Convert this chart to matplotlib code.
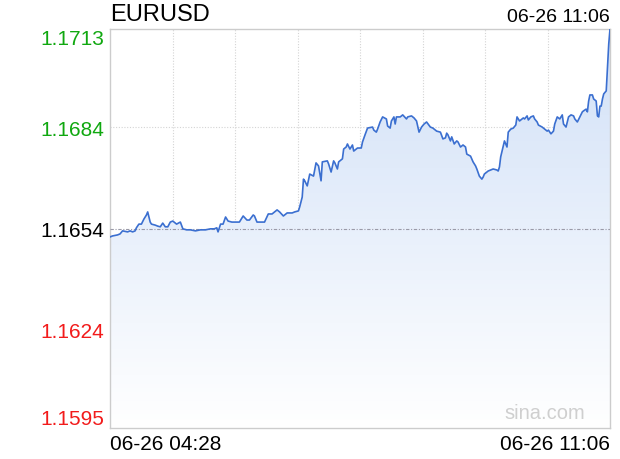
import numpy as np
import matplotlib
matplotlib.use("Agg")
import matplotlib.pyplot as plt
from matplotlib.patches import PathPatch

plt.rcParams["font.family"] = ["Liberation Sans", "DejaVu Sans"]

symbol = "EURUSD"
stamp = "06-26 11:06"
start_label = "06-26 04:28"
end_label = "06-26 11:06"
prev_close = 1.1654

# minutes after 04:28
minutes = [
    0, 2, 6, 8, 10, 14, 16, 18, 20, 21, 23, 25, 27, 29, 30, 31, 32, 33, 36, 38,
    40, 42, 44, 46, 48, 50, 52, 53, 56, 58, 61, 64, 68, 72, 76, 80, 83, 85, 86, 88,
    90, 92, 94, 97, 100, 103, 106, 109, 111, 114, 115, 117, 119, 123, 126, 129, 131, 133, 135, 138,
    141, 145, 147, 150, 151, 153, 154, 155, 157, 159, 162, 164, 166, 168, 169, 173, 174, 176, 178, 179,
    181, 182, 185, 186, 188, 189, 191, 193, 194, 197, 200, 201, 203, 205, 209, 210, 212, 213, 215, 217,
    220, 221, 223, 224, 226, 227, 228, 231, 233, 236, 237, 240, 242, 244, 246, 248, 250, 252, 255, 257,
    260, 263, 265, 267, 268, 269, 271, 272, 274, 276, 277, 279, 281, 283, 284, 287, 289, 291, 292, 294,
    296, 297, 298, 300, 301, 303, 305, 308, 309, 310, 311, 313, 314, 316, 317, 319, 321, 323, 324, 326,
    329, 330, 332, 333, 335, 337, 338, 340, 341, 344, 345, 348, 349, 351, 353, 354, 356, 358, 360, 361,
    363, 365, 367, 369, 370, 372, 374, 376, 377, 379, 380, 381, 382, 384, 385, 387, 388, 389, 390, 391,
    392, 393, 395, 396, 397, 398,
]

prices = [
    1.16515, 1.16518, 1.16521, 1.16524, 1.16533, 1.16530, 1.16533, 1.16530, 1.16533, 1.16542,
    1.16553, 1.16553, 1.16568, 1.16580, 1.16589, 1.16574, 1.16559, 1.16553, 1.16550, 1.16547,
    1.16545, 1.16556, 1.16545, 1.16545, 1.16559, 1.16562, 1.16556, 1.16553, 1.16559, 1.16539,
    1.16536, 1.16536, 1.16533, 1.16536, 1.16536, 1.16539, 1.16539, 1.16542, 1.16530, 1.16553,
    1.16553, 1.16574, 1.16562, 1.16559, 1.16559, 1.16559, 1.16577, 1.16565, 1.16565, 1.16580,
    1.16577, 1.16559, 1.16559, 1.16559, 1.16583, 1.16583, 1.16589, 1.16595, 1.16589, 1.16577,
    1.16586, 1.16586, 1.16589, 1.16592, 1.16604, 1.16633, 1.16686, 1.16681, 1.16666, 1.16701,
    1.16695, 1.16734, 1.16725, 1.16681, 1.16737, 1.16740, 1.16731, 1.16707, 1.16740, 1.16734,
    1.16716, 1.16737, 1.16746, 1.16775, 1.16781, 1.16790, 1.16775, 1.16787, 1.16769, 1.16778,
    1.16778, 1.16796, 1.16817, 1.16837, 1.16840, 1.16831, 1.16825, 1.16834, 1.16855, 1.16870,
    1.16864, 1.16843, 1.16837, 1.16858, 1.16870, 1.16849, 1.16870, 1.16870, 1.16876, 1.16864,
    1.16870, 1.16873, 1.16867, 1.16858, 1.16825, 1.16840, 1.16849, 1.16855, 1.16840, 1.16837,
    1.16828, 1.16825, 1.16805, 1.16808, 1.16822, 1.16817, 1.16799, 1.16811, 1.16790, 1.16799,
    1.16796, 1.16781, 1.16787, 1.16781, 1.16760, 1.16754, 1.16737, 1.16725, 1.16716, 1.16695,
    1.16686, 1.16692, 1.16701, 1.16707, 1.16710, 1.16713, 1.16716, 1.16713, 1.16710, 1.16722,
    1.16752, 1.16784, 1.16799, 1.16781, 1.16825, 1.16834, 1.16837, 1.16846, 1.16870, 1.16858,
    1.16867, 1.16864, 1.16873, 1.16861, 1.16870, 1.16873, 1.16864, 1.16855, 1.16846, 1.16840,
    1.16837, 1.16828, 1.16831, 1.16820, 1.16828, 1.16849, 1.16870, 1.16864, 1.16876, 1.16849,
    1.16840, 1.16870, 1.16876, 1.16873, 1.16864, 1.16855, 1.16870, 1.16885, 1.16888, 1.16893,
    1.16885, 1.16917, 1.16935, 1.16935, 1.16923, 1.16917, 1.16873, 1.16870, 1.16902, 1.16902,
    1.16923, 1.16938, 1.16947, 1.17018, 1.17086, 1.17130,
]

y_levels = [1.1595, 1.1624, 1.1654, 1.1684, 1.1713]
y_labels = ["1.1595", "1.1624", "1.1654", "1.1684", "1.1713"]
y_colors = ["#f21b1b", "#f21b1b", "#000000", "#10a810", "#10a810"]

t_end = 398
ymin, ymax = y_levels[0], y_levels[-1]

fig = plt.figure(figsize=(6.2, 4.6), dpi=100)
ax = fig.add_axes([110 / 620, 31 / 460, 500 / 620, 399 / 460])
ax.set_xlim(0, t_end)
ax.set_ylim(ymin, ymax)

# grid
for k in range(1, 8):
    ax.axvline(t_end * k / 8, color="#d4d4d4", lw=0.8, ls=(0, (1, 1.5)), zorder=1)
for lv in (y_levels[1], y_levels[3]):
    ax.axhline(lv, color="#d4d4d4", lw=0.8, ls=(0, (1, 1.5)), zorder=1)

# gradient fill under the line
fill = ax.fill_between(minutes, prices, ymin, color="none", lw=0)
grad = np.linspace(0, 1, 256).reshape(-1, 1)
top = np.array([0.82, 0.88, 0.97])
bot = np.array([1.0, 1.0, 1.0])
img = top + (bot - top) * grad
im = ax.imshow(img.reshape(256, 1, 3), extent=[0, t_end, ymin, ymax],
               aspect="auto", origin="upper", zorder=2)
path = fill.get_paths()[0]
patch = PathPatch(path, transform=ax.transData, facecolor="none", edgecolor="none")
ax.add_patch(patch)
im.set_clip_path(patch)

ax.axhline(prev_close, color="#9a9aa8", lw=0.8, ls=(0, (3, 1.5, 1, 1.5)), zorder=3)
ax.plot(minutes, prices, color="#3b6fd0", lw=1.2, zorder=4)

for s in ax.spines.values():
    s.set_color("#cccccc")
    s.set_linewidth(1)

ax.set_xticks([])
ax.set_yticks(y_levels)
ax.set_yticklabels(y_labels, fontsize=15)
ax.tick_params(axis="y", length=0, pad=4)
for lab, c in zip(ax.get_yticklabels(), y_colors):
    lab.set_color(c)
ax.get_yticklabels()[0].set_va("bottom")
ax.get_yticklabels()[-1].set_va("top")

ax.text(0, 1.037, symbol, transform=ax.transAxes, ha="left", va="center", fontsize=17)
ax.text(1, 1.032, stamp, transform=ax.transAxes, ha="right", va="center", fontsize=14)
ax.text(0, -0.04, start_label, transform=ax.transAxes, ha="left", va="center", fontsize=15)
ax.text(1, -0.04, end_label, transform=ax.transAxes, ha="right", va="center", fontsize=15)
ax.text(0.95, 0.04, "sina.com", transform=ax.transAxes, ha="right", va="center",
        fontsize=14.5, color="#cfcfcf", zorder=5)

fig.savefig("out.png", dpi=100)
